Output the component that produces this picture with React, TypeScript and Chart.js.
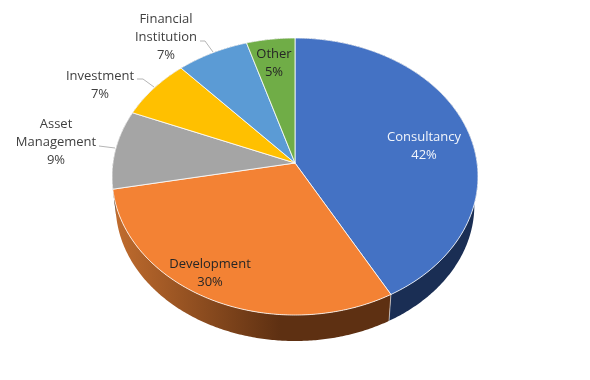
import React, { useEffect, useRef } from "react";
import { Chart, registerables } from "chart.js";

Chart.register(...registerables);

const categories = ["Consultancy", "Development", "Asset Management", "Investment", "Financial Institution", "Other"];
const shares = [42, 30, 9.2, 7.1, 7.0, 4.7];
const faceColors = ["#4472C4", "#F38234", "#A5A5A5", "#FFC000", "#5B9BD5", "#70AD47"];
const labelLines = [["Consultancy"], ["Development"], ["Asset", "Management"], ["Investment"], ["Financial", "Institution"], ["Other"]];
const labelCenters = [[424, 137], [210, 264], [56, 124], [100, 76], [166, 19], [274, 54]];
const labelColors = ["#F2F5FB", "#262626", "#404040", "#404040", "#404040", "#262626"];
const leaders = [
  [],
  [],
  [[99, 146], [115, 148]],
  [[137, 79], [143, 79], [154, 87]],
  [[200, 41], [205, 41], [213, 52]],
  [],
];

const K = -0.0975;
const project = (a: number, cx: number, cy: number, rx: number, ry: number) => {
  const x = Math.cos(a), y = Math.sin(a), w = 1 + K * y;
  return [cx + (rx * x) / w, cy + (ry * y) / w];
};
const topPt = (a: number) => project(a, 295, 163, 182.1, 137.2);
const lowPt = (a: number) => project(a, 295, 192, 178.5, 134.5);

const sampleAngles = (s: number, e: number) => {
  const n = Math.max(2, Math.ceil((e - s) / 0.01));
  const out: number[] = [];
  for (let i = 0; i <= n; i++) out.push(s + ((e - s) * i) / n);
  return out;
};

const wallFill = (ctx: CanvasRenderingContext2D, i: number) => {
  if (i === 0) return "#1A2E54";
  const g = ctx.createLinearGradient(115, 0, 280, 0);
  g.addColorStop(0, "#C06C2E");
  g.addColorStop(1, "#5E3012");
  return i === 1 ? g : "#555555";
};

const pie3d = {
  id: "pie3d",
  beforeDatasetDraw(chart: any) {
    const { ctx } = chart;
    const arcs = chart.getDatasetMeta(0).data;
    ctx.save();
    ctx.lineJoin = "round";
    arcs.forEach((el: any, i: number) => {
      const { startAngle, endAngle } = el.getProps(["startAngle", "endAngle"], true);
      const angles = sampleAngles(startAngle, endAngle);
      ctx.beginPath();
      angles.forEach((a, j) => {
        const [x, y] = topPt(a);
        j ? ctx.lineTo(x, y) : ctx.moveTo(x, y);
      });
      [...angles].reverse().forEach((a) => {
        const [x, y] = lowPt(a);
        ctx.lineTo(x, y);
      });
      ctx.closePath();
      ctx.fillStyle = wallFill(ctx, i);
      ctx.fill();
    });
    // seam between the two front walls
    const seam = arcs[0].getProps(["endAngle"], true).endAngle;
    const [sx, sy] = topPt(seam);
    const [lx, ly] = lowPt(seam);
    ctx.strokeStyle = "rgba(255,255,255,0.55)";
    ctx.lineWidth = 1;
    ctx.beginPath();
    ctx.moveTo(sx, sy);
    ctx.lineTo(lx, ly);
    ctx.stroke();

    arcs.forEach((el: any, i: number) => {
      const { startAngle, endAngle } = el.getProps(["startAngle", "endAngle"], true);
      ctx.beginPath();
      ctx.moveTo(295, 163);
      sampleAngles(startAngle, endAngle).forEach((a) => {
        const [x, y] = topPt(a);
        ctx.lineTo(x, y);
      });
      ctx.closePath();
      ctx.fillStyle = faceColors[i];
      ctx.fill();
      ctx.strokeStyle = "rgba(255,255,255,0.8)";
      ctx.lineWidth = 1;
      ctx.stroke();
    });
    ctx.restore();
    return false;
  },
  afterDraw(chart: any) {
    const { ctx } = chart;
    ctx.save();
    ctx.strokeStyle = "#B5B5B5";
    ctx.lineWidth = 1;
    leaders.forEach((pts) => {
      if (!pts.length) return;
      ctx.beginPath();
      pts.forEach(([x, y], j) => (j ? ctx.lineTo(x, y) : ctx.moveTo(x, y)));
      ctx.stroke();
    });
    ctx.font = '13px "Open Sans"';
    ctx.textAlign = "center";
    ctx.textBaseline = "middle";
    categories.forEach((_, i) => {
      const [cx, cy] = labelCenters[i];
      const lines = [...labelLines[i], `${Math.round(shares[i])}%`];
      ctx.fillStyle = labelColors[i];
      lines.forEach((t, j) => ctx.fillText(t, cx, cy + j * 18));
    });
    ctx.restore();
  },
};

export default function App() {
  const ref = useRef<HTMLCanvasElement>(null);
  useEffect(() => {
    const chart = new Chart(ref.current!, {
      type: "pie",
      data: {
        labels: categories,
        datasets: [{ data: shares, backgroundColor: faceColors, borderWidth: 0 }],
      },
      options: {
        responsive: false,
        animation: false,
        plugins: { legend: { display: false }, tooltip: { enabled: false } },
      },
      plugins: [pie3d],
    } as any);
    return () => chart.destroy();
  }, []);
  return (
    <div style={{ position: "fixed", left: 0, top: 0, width: 590, height: 380, background: "#fff" }}>
      <canvas ref={ref} width={590} height={380} style={{ display: "block" }} />
    </div>
  );
}
